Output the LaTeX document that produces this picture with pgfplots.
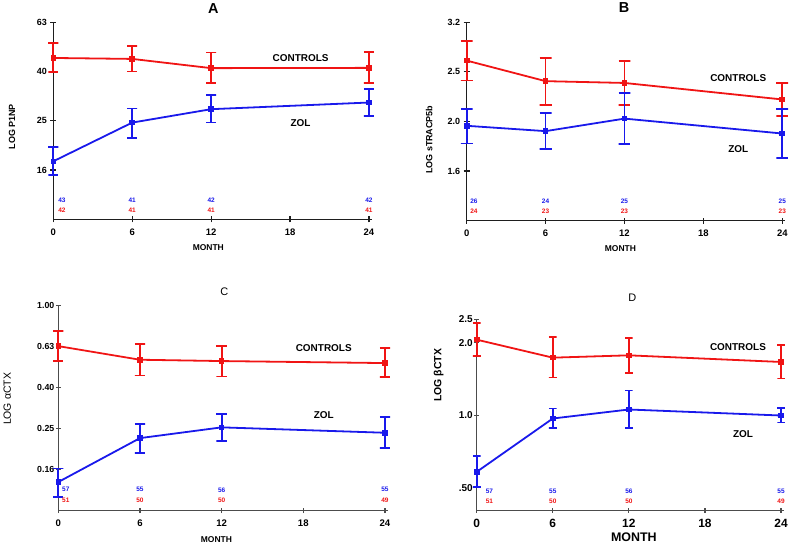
\documentclass[border=0pt]{standalone}
\usepackage{pgfplots}
\pgfplotsset{compat=1.18}
\usepackage{pgfplotstable}
\usepackage{fontspec}
\setmainfont{Liberation Sans}
\definecolor{cr}{RGB}{240,20,20}
\definecolor{cb}{RGB}{25,25,235}
\definecolor{axc}{RGB}{30,30,30}

\pgfplotstableread{
x y
0 45.2
6 44.8
12 41.1
24 41.2
}\ctrlA
\pgfplotstableread{
x y
0 17.2
6 24.7
12 28.0
24 29.8
}\zolA
\pgfplotstableread{
x y
0 2.647
6 2.406
12 2.386
24 2.210
}\ctrlB
\pgfplotstableread{
x y
0 1.956
6 1.908
12 2.022
24 1.887
}\zolB
\pgfplotstableread{
x y
0 0.635
6 0.545
12 0.537
24 0.525
}\ctrlC
\pgfplotstableread{
x y
0 0.138
6 0.226
12 0.255
24 0.240
}\zolC
\pgfplotstableread{
x y
0 2.058
6 1.733
12 1.772
24 1.663
}\ctrlD
\pgfplotstableread{
x y
0 0.582
6 0.969
12 1.056
24 0.997
}\zolD

\newcommand{\fs}[1]{\fontsize{#1}{#1}\selectfont}

\pgfplotsset{
  mypanelstyle/.style={
    scale only axis, clip=false,
    axis lines*=left,
    axis line style={line width=1.3bp, axc},
    major tick style={line width=1.2bp, axc},
    major tick length=6bp, tick align=center,
    xmin=0, xmax=24.2, xtick={0,6,12,18,24}, xticklabels={0,6,12,18,24},
    xlabel={MONTH},
  },
  lineser/.style={color=#1, line width=1.8bp, mark=square*, mark size=1.9bp,
    mark options={color=#1}},
  barser/.style={color=#1, line width=1.8bp, mark=none, unbounded coords=jump},
}

\begin{document}
\begin{tikzpicture}
\useasboundingbox (0,0) rectangle (792bp,545bp);

% ---------- A ----------
\begin{axis}[mypanelstyle, ymode=log, at={(53.3bp,325.7bp)}, anchor=south west,
  width=318.3bp, height=197bp,
  ymin=10, ymax=63.096,
  ytick={15.849,25.119,39.811,63.096}, yticklabels={16,25,40,63}, minor ytick={},
  yticklabel style={font=\fs{9}\bfseries},
  xticklabel style={font=\fs{9.5}\bfseries, yshift=-3bp},
  ylabel={LOG P1NP},
  y label style={at={(axis description cs:-0.13,0.47)}, anchor=center, font=\fs{9}\bfseries},
  x label style={at={(axis description cs:0.487,0)}, anchor=center, yshift=-28bp, font=\fs{8.5}\bfseries},
  title={A}, title style={at={(axis description cs:0.503,1)}, anchor=center, yshift=8bp, font=\fs{14.5}\bfseries},
]
\addplot[barser=cr] coordinates {(-0.38,51.9)(0.38,51.9)(0,51.9)(0,39.7)(-0.38,39.7)(0.38,39.7)(0,nan)
 (5.62,50.5)(6.38,50.5)(6,50.5)(6,39.8)(5.62,39.8)(6.38,39.8)(6,nan)
 (11.62,47.6)(12.38,47.6)(12,47.6)(12,35.7)(11.62,35.7)(12.38,35.7)(12,nan)
 (23.62,47.7)(24.38,47.7)(24,47.7)(24,35.8)(23.62,35.8)(24.38,35.8)};
\addplot[barser=cb] coordinates {(-0.38,19.7)(0.38,19.7)(0,19.7)(0,15.1)(-0.38,15.1)(0.38,15.1)(0,nan)
 (5.62,28.2)(6.38,28.2)(6,28.2)(6,21.4)(5.62,21.4)(6.38,21.4)(6,nan)
 (11.62,32.0)(12.38,32.0)(12,32.0)(12,24.7)(11.62,24.7)(12.38,24.7)(12,nan)
 (23.62,33.7)(24.38,33.7)(24,33.7)(24,26.2)(23.62,26.2)(24.38,26.2)};
\addplot[lineser=cr] table[x=x, y=y] {\ctrlA};
\addplot[lineser=cb] table[x=x, y=y] {\zolA};
\node[font=\fs{10}\bfseries] at (axis cs:18.8,45.1) {CONTROLS};
\node[font=\fs{10}\bfseries] at (axis cs:18.8,24.7) {ZOL};
\node[font=\fs{6.5}\bfseries, text=cb] at (axis cs:0.66,12.0) {43};
\node[font=\fs{6.5}\bfseries, text=cr] at (axis cs:0.66,10.9) {42};
\node[font=\fs{6.5}\bfseries, text=cb] at (axis cs:6,12.0) {41};
\node[font=\fs{6.5}\bfseries, text=cr] at (axis cs:6,10.9) {41};
\node[font=\fs{6.5}\bfseries, text=cb] at (axis cs:12,12.0) {42};
\node[font=\fs{6.5}\bfseries, text=cr] at (axis cs:12,10.9) {41};
\node[font=\fs{6.5}\bfseries, text=cb] at (axis cs:24,12.0) {42};
\node[font=\fs{6.5}\bfseries, text=cr] at (axis cs:24,10.9) {41};
\end{axis}

% ---------- B ----------
\begin{axis}[mypanelstyle, ymode=log, at={(466.7bp,324.3bp)}, anchor=south west,
  width=318.2bp, height=198.4bp,
  ymin=1.2589, ymax=3.1623,
  ytick={1.5849,1.9953,2.5119,3.1623}, yticklabels={1.6,2.0,2.5,3.2}, minor ytick={},
  yticklabel style={font=\fs{9}\bfseries},
  xticklabel style={font=\fs{9.5}\bfseries, yshift=-3bp},
  ylabel={LOG sTRACP5b},
  y label style={at={(axis description cs:-0.118,0.408)}, anchor=center, font=\fs{9}\bfseries},
  x label style={at={(axis description cs:0.483,0)}, anchor=center, yshift=-27.6bp, font=\fs{8.5}\bfseries},
  title={B}, title style={at={(axis description cs:0.495,1)}, anchor=center, yshift=8.5bp, font=\fs{14.5}\bfseries},
]
\addplot[barser=cr] coordinates {(-0.45,2.904)(0.45,2.904)(0,2.904)(0,2.413)(-0.45,2.413)(0.45,2.413)(0,nan)
 (5.55,2.684)(6.45,2.684)(6,2.684)(6,2.152)(5.55,2.152)(6.45,2.152)(6,nan)
 (11.55,2.643)(12.45,2.643)(12,2.643)(12,2.155)(11.55,2.155)(12.45,2.155)(12,nan)
 (23.55,2.386)(24.45,2.386)(24,2.386)(24,2.045)(23.55,2.045)(24.45,2.045)};
\addplot[barser=cb] coordinates {(-0.45,2.118)(0.45,2.118)(0,2.118)(0,1.802)(-0.45,1.802)(0.45,1.802)(0,nan)
 (5.55,2.074)(6.45,2.074)(6,2.074)(6,1.756)(5.55,1.756)(6.45,1.756)(6,nan)
 (11.55,2.275)(12.45,2.275)(12,2.275)(12,1.797)(11.55,1.797)(12.45,1.797)(12,nan)
 (23.55,2.113)(24.45,2.113)(24,2.113)(24,1.686)(23.55,1.686)(24.45,1.686)};
\addplot[lineser=cr] table[x=x, y=y] {\ctrlB};
\addplot[lineser=cb] table[x=x, y=y] {\zolB};
\node[font=\fs{10}\bfseries] at (axis cs:20.65,2.446) {CONTROLS};
\node[font=\fs{10}\bfseries] at (axis cs:20.65,1.752) {ZOL};
\node[font=\fs{6.5}\bfseries, text=cb] at (axis cs:0.55,1.377) {26};
\node[font=\fs{6.5}\bfseries, text=cr] at (axis cs:0.55,1.317) {24};
\node[font=\fs{6.5}\bfseries, text=cb] at (axis cs:6,1.377) {24};
\node[font=\fs{6.5}\bfseries, text=cr] at (axis cs:6,1.317) {23};
\node[font=\fs{6.5}\bfseries, text=cb] at (axis cs:12,1.377) {25};
\node[font=\fs{6.5}\bfseries, text=cr] at (axis cs:12,1.317) {23};
\node[font=\fs{6.5}\bfseries, text=cb] at (axis cs:24,1.377) {25};
\node[font=\fs{6.5}\bfseries, text=cr] at (axis cs:24,1.317) {23};
\end{axis}

% ---------- C ----------
\begin{axis}[mypanelstyle, ymode=log, at={(58.3bp,34.3bp)}, anchor=south west,
  width=329.4bp, height=205bp,
  axis line style={line width=1.3bp, black!70},
  major tick style={line width=1.2bp, black!70},
  major tick length=5bp,
  ymin=0.1, ymax=1.0,
  ytick={0.15849,0.25119,0.39811,0.63096,1.0}, yticklabels={0.16,0.25,0.40,0.63,1.00}, minor ytick={},
  yticklabel style={font=\fs{8.8}\bfseries, xshift=2bp},
  xticklabel style={font=\fs{9.6}\bfseries, yshift=-3bp},
  ylabel={LOG αCTX},
  y label style={at={(axis description cs:-0.155,0.545)}, anchor=center, font=\fs{10.5}},
  x label style={at={(axis description cs:0.48,0)}, anchor=center, yshift=-29bp, font=\fs{8.5}\bfseries},
  title={C}, title style={at={(axis description cs:0.504,1)}, anchor=center, yshift=7.5bp, font=\fs{11}},
]
\addplot[barser=cr] coordinates {(-0.38,0.754)(0.38,0.754)(0,0.754)(0,0.537)(-0.38,0.537)(0.38,0.537)(0,nan)
 (5.62,0.652)(6.38,0.652)(6,0.652)(6,0.457)(5.62,0.457)(6.38,0.457)(6,nan)
 (11.62,0.637)(12.38,0.637)(12,0.637)(12,0.451)(11.62,0.451)(12.38,0.451)(12,nan)
 (23.62,0.621)(24.38,0.621)(24,0.621)(24,0.447)(23.62,0.447)(24.38,0.447)};
\addplot[barser=cb] coordinates {(-0.38,0.1607)(0.38,0.1607)(0,0.1607)(0,0.1165)(-0.38,0.1165)(0.38,0.1165)(0,nan)
 (5.62,0.2656)(6.38,0.2656)(6,0.2656)(6,0.192)(5.62,0.192)(6.38,0.192)(6,nan)
 (11.62,0.2955)(12.38,0.2955)(12,0.2955)(12,0.219)(11.62,0.219)(12.38,0.219)(12,nan)
 (23.62,0.286)(24.38,0.286)(24,0.286)(24,0.202)(23.62,0.202)(24.38,0.202)};
\addplot[lineser=cr] table[x=x, y=y] {\ctrlC};
\addplot[lineser=cb] table[x=x, y=y] {\zolC};
\node[font=\fs{10}\bfseries] at (axis cs:19.5,0.623) {CONTROLS};
\node[font=\fs{10}\bfseries] at (axis cs:19.5,0.292) {ZOL};
\node[font=\fs{6.5}\bfseries, text=cb] at (axis cs:0.55,0.1265) {57};
\node[font=\fs{6.5}\bfseries, text=cr] at (axis cs:0.55,0.1123) {51};
\node[font=\fs{6.5}\bfseries, text=cb] at (axis cs:6,0.1265) {55};
\node[font=\fs{6.5}\bfseries, text=cr] at (axis cs:6,0.1123) {50};
\node[font=\fs{6.5}\bfseries, text=cb] at (axis cs:12,0.1265) {56};
\node[font=\fs{6.5}\bfseries, text=cr] at (axis cs:12,0.1123) {50};
\node[font=\fs{6.5}\bfseries, text=cb] at (axis cs:24,0.1265) {55};
\node[font=\fs{6.5}\bfseries, text=cr] at (axis cs:24,0.1123) {49};
\end{axis}

% ---------- D ----------
\begin{axis}[mypanelstyle, ymode=log, at={(476.7bp,34.5bp)}, anchor=south west,
  width=306.9bp, height=191.2bp,
  axis line style={line width=1.3bp, black!70},
  major tick style={line width=1.2bp, black!70},
  major tick length=5bp,
  ymin=0.4023, ymax=2.5,
  ytick={0.5,1.0,2.0,2.5}, yticklabels={.50,1.0,2.0,2.5}, minor ytick={},
  yticklabel style={font=\fs{10}\bfseries, xshift=2bp},
  xticklabel style={font=\fs{12}\bfseries, yshift=-3bp},
  ylabel={LOG βCTX},
  y label style={at={(axis description cs:-0.124,0.708)}, anchor=center, font=\fs{10.5}\bfseries},
  x label style={at={(axis description cs:0.512,0)}, anchor=center, yshift=-26.7bp, font=\fs{12.5}\bfseries},
  title={D}, title style={at={(axis description cs:0.507,1)}, anchor=center, yshift=16bp, font=\fs{11}},
]
\addplot[barser=cr] coordinates {(-0.3,2.41)(0.3,2.41)(0,2.41)(0,1.767)(-0.3,1.767)(0.3,1.767)(0,nan)
 (5.7,2.104)(6.3,2.104)(6,2.104)(6,1.433)(5.7,1.433)(6.3,1.433)(6,nan)
 (11.7,2.098)(12.3,2.098)(12,2.098)(12,1.502)(11.7,1.502)(12.3,1.502)(12,nan)
 (23.7,1.95)(24.3,1.95)(24,1.95)(24,1.419)(23.7,1.419)(24.3,1.419)};
\addplot[barser=cb] coordinates {(-0.3,0.679)(0.3,0.679)(0,0.679)(0,0.502)(-0.3,0.502)(0.3,0.502)(0,nan)
 (5.7,1.066)(6.3,1.066)(6,1.066)(6,0.884)(5.7,0.884)(6.3,0.884)(6,nan)
 (11.7,1.266)(12.3,1.266)(12,1.266)(12,0.884)(11.7,0.884)(12.3,0.884)(12,nan)
 (23.7,1.069)(24.3,1.069)(24,1.069)(24,0.932)(23.7,0.932)(24.3,0.932)};
\addplot[lineser=cr] table[x=x, y=y] {\ctrlD};
\addplot[lineser=cb] table[x=x, y=y] {\zolD};
\node[font=\fs{10}\bfseries] at (axis cs:20.6,1.918) {CONTROLS};
\node[font=\fs{10}\bfseries] at (axis cs:21.0,0.834) {ZOL};
\node[font=\fs{6.5}\bfseries, text=cb] at (axis cs:1.0,0.483) {57};
\node[font=\fs{6.5}\bfseries, text=cr] at (axis cs:1.0,0.439) {51};
\node[font=\fs{6.5}\bfseries, text=cb] at (axis cs:6,0.483) {55};
\node[font=\fs{6.5}\bfseries, text=cr] at (axis cs:6,0.439) {50};
\node[font=\fs{6.5}\bfseries, text=cb] at (axis cs:12,0.483) {56};
\node[font=\fs{6.5}\bfseries, text=cr] at (axis cs:12,0.439) {50};
\node[font=\fs{6.5}\bfseries, text=cb] at (axis cs:24,0.483) {55};
\node[font=\fs{6.5}\bfseries, text=cr] at (axis cs:24,0.439) {49};
\end{axis}
\end{tikzpicture}
\end{document}
